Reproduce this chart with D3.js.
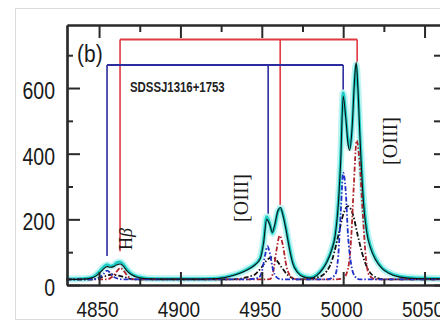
<!DOCTYPE html>
<html>
<head>
<meta charset="utf-8">
<script src="https://cdn.jsdelivr.net/npm/d3@7"></script>
<style>
  html, body { margin: 0; padding: 0; background: #fff; }
  svg { display: block; }
</style>
</head>
<body>
<div id="chart"></div>
<script>
// observed spectrum (cyan)
var obsWave = [4830, 4840, 4845, 4848, 4851, 4853, 4855, 4857, 4859, 4861, 4863, 4865, 4867, 4870, 4874, 4880,
  4890, 4900, 4910, 4920, 4925, 4930, 4936, 4941, 4945, 4949, 4951, 4953, 4955, 4956.5, 4958, 4960, 4961.5,
  4963, 4965, 4967, 4969, 4972, 4976, 4980, 4984, 4987, 4990, 4993, 4995, 4997, 4998.5, 5000, 5001.5, 5003,
  5004, 5005.5, 5007, 5008, 5009, 5010.5, 5012.5, 5014.5, 5017, 5020, 5024, 5028, 5035, 5045, 5064];
var obsFlux = [18, 19, 22, 30, 45, 56, 62, 57, 60, 68, 70, 62, 48, 34, 25, 20,
  19, 19, 19, 20, 22, 27, 36, 48, 60, 82, 130, 208, 185, 158, 180, 225, 234,
  215, 170, 115, 70, 40, 26, 23, 32, 48, 72, 110, 150, 250, 390, 585, 520, 440,
  418, 480, 620, 670, 600, 440, 260, 168, 115, 80, 52, 38, 26, 21, 20];
// best fit (black)
var fitFlux = [17, 18, 21, 27, 40, 50, 56, 54, 56, 62, 64, 57, 44, 31, 23, 19,
  18, 18, 18, 19, 21, 26, 35, 46, 58, 80, 125, 200, 182, 160, 185, 228, 236,
  212, 165, 110, 66, 38, 24, 21, 30, 46, 70, 108, 148, 245, 380, 575, 515, 430,
  410, 480, 625, 678, 605, 430, 250, 160, 110, 76, 50, 36, 24, 20, 19];

// blue-shifted narrow component
var blueWave = [4830, 4845, 4850, 4853, 4855, 4857, 4860, 4865, 4940, 4948, 4950, 4952, 4953.5, 4955, 4957, 4959, 4962,
  4990, 4995, 4997, 4998.5, 5000, 5001.5, 5003, 5005, 5007, 5010, 5064];
var blueFlux = [17, 17, 22, 35, 44, 36, 22, 17, 17, 22, 40, 90, 118, 95, 45, 24, 17,
  17, 30, 90, 220, 342, 290, 150, 60, 28, 17, 17];

// red-shifted narrow component
var redWave = [4830, 4855, 4858, 4861, 4863, 4865, 4868, 4872, 4950, 4955, 4957, 4959, 4961, 4963, 4965, 4968, 4972,
  4995, 5000, 5003, 5005, 5006.5, 5008.3, 5010, 5012, 5014, 5016, 5020, 5064];
var redFlux = [17, 17, 25, 42, 52, 44, 25, 17, 17, 18, 40, 105, 150, 120, 60, 25, 17,
  17, 20, 50, 150, 300, 440, 380, 220, 80, 30, 17, 17];

// broad component
var broadWave = [4830, 4845, 4852, 4858, 4864, 4872, 4930, 4945, 4950, 4953, 4956, 4959, 4962, 4966, 4972,
  4985, 4992, 4997, 5000, 5003, 5006, 5009, 5013, 5018, 5025, 5064];
var broadFlux = [17, 17, 24, 32, 26, 17, 17, 30, 55, 75, 84, 76, 55, 30, 17,
  24, 60, 150, 215, 240, 215, 150, 75, 30, 17, 17];

// line positions of the two systems
var redLines = [4862.9, 4961.3, 5008.6];
var redLineEnds = [103, 233, 676];
var redTop = 748;
var blueLines = [4854.9, 4953.9, 5000.0];
var blueLineEnds = [88, 215, 591];
var blueTop = 670;

var xTicks = [4850, 4900, 4950, 5000, 5050];
var xMinor = [4875, 4925, 4975, 5025];
var yTicks = [0, 200, 400, 600];
var yMinor = [100, 300, 500, 700];

var W = 440, H = 322;
var svg = d3.select('#chart').append('svg')
  .attr('width', W)
  .attr('height', H);

// faint photo border
svg.append('rect')
  .attr('x', 15.5).attr('y', 8.5)
  .attr('width', 440).attr('height', 311)
  .attr('fill', 'none')
  .attr('stroke', '#dcdcdc');

var x = d3.scaleLinear().domain([4830.3, 5063.8]).range([67, 447]);
var y = d3.scaleLinear().domain([0, 792]).range([285, 25]);

var plot = svg.append('g');

function series(wave, flux) {
  return wave.map(function(w, i) { return [w, flux[i]]; });
}
var line = d3.line()
  .x(function(d) { return x(d[0]); })
  .y(function(d) { return y(d[1]); })
  .curve(d3.curveMonotoneX);

// brackets
function bracket(lines, ends, top, color) {
  plot.append('line')
    .attr('x1', x(lines[0])).attr('x2', x(lines[2]))
    .attr('y1', y(top)).attr('y2', y(top))
    .attr('stroke', color).attr('stroke-width', 2);
  lines.forEach(function(w, i) {
    plot.append('line')
      .attr('x1', x(w)).attr('x2', x(w))
      .attr('y1', y(top)).attr('y2', y(ends[i]))
      .attr('stroke', color).attr('stroke-width', 1.6);
  });
}
bracket(redLines, redLineEnds, redTop, '#e03a42');
bracket(blueLines, blueLineEnds, blueTop, '#2c2ca0');

// observed
plot.append('path')
  .datum(series(obsWave, obsFlux))
  .attr('d', line)
  .attr('fill', 'none')
  .attr('stroke', '#bdf5f3')
  .attr('stroke-width', 7);
plot.append('path')
  .datum(series(obsWave, obsFlux))
  .attr('d', line)
  .attr('fill', 'none')
  .attr('stroke', '#1cccc4')
  .attr('stroke-width', 3);

// components
var comps = [
  { wave: broadWave, flux: broadFlux, color: '#111' },
  { wave: redWave, flux: redFlux, color: '#b0242c' },
  { wave: blueWave, flux: blueFlux, color: '#2030c8' }
];
comps.forEach(function(c) {
  plot.append('path')
    .datum(series(c.wave, c.flux))
    .attr('d', line)
    .attr('fill', 'none')
    .attr('stroke', c.color)
    .attr('stroke-width', 1.8)
    .attr('stroke-dasharray', '5,2,1.5,2');
});

// best fit
plot.append('path')
  .datum(series(obsWave, fitFlux))
  .attr('d', line)
  .attr('fill', 'none')
  .attr('stroke', '#111')
  .attr('stroke-width', 1.1);

// axes
var axisColor = '#2a2a2a';
function drawAxis(axis, transform) {
  var g = svg.append('g').attr('transform', transform).call(axis);
  g.selectAll('path').attr('stroke', axisColor).attr('stroke-width', 2.2);
  g.selectAll('line').attr('stroke', axisColor).attr('stroke-width', 2);
  g.selectAll('text').remove();
  return g;
}
drawAxis(d3.axisBottom(x).tickValues(xTicks).tickSize(-13).tickSizeOuter(0), 'translate(0,285)');
drawAxis(d3.axisBottom(x).tickValues(xMinor).tickSize(-6).tickSizeOuter(0), 'translate(0,285)');
drawAxis(d3.axisTop(x).tickValues(xTicks).tickSize(-13).tickSizeOuter(0), 'translate(0,25)');
drawAxis(d3.axisTop(x).tickValues(xMinor).tickSize(-7).tickSizeOuter(0), 'translate(0,25)');
drawAxis(d3.axisLeft(y).tickValues(yTicks).tickSize(-13).tickSizeOuter(0), 'translate(67,0)');
drawAxis(d3.axisLeft(y).tickValues(yMinor).tickSize(-6).tickSizeOuter(0), 'translate(67,0)');
drawAxis(d3.axisRight(y).tickValues(yTicks.concat(yMinor)).tickSize(-13).tickSizeOuter(0), 'translate(447,0)');

// tick labels
var font = "'Liberation Sans', Arial, sans-serif";
yTicks.forEach(function(v) {
  svg.append('g')
    .attr('transform', 'translate(55,' + (y(v) + 11) + ') scale(1,1.2)')
    .append('text')
    .attr('text-anchor', 'end')
    .style('font-family', font)
    .style('font-size', '19.5px')
    .attr('fill', '#1a1a1a')
    .text(v);
});
xTicks.forEach(function(v) {
  svg.append('g')
    .attr('transform', 'translate(' + (x(v) - 1.5) + ',317) scale(1,1.2)')
    .append('text')
    .attr('text-anchor', 'middle')
    .style('font-family', font)
    .style('font-size', '19px')
    .attr('fill', '#1a1a1a')
    .text(v);
});

// panel letter
svg.append('g')
  .attr('transform', 'translate(77,62) scale(1,1.15)')
  .append('text')
  .style('font-family', font)
  .style('font-size', '21px')
  .attr('fill', '#1a1a1a')
  .text('(b)');

// object name
svg.append('g')
  .attr('transform', 'translate(130,92) scale(1,1.25)')
  .append('text')
  .style('font-family', font)
  .style('font-size', '11.4px')
  .style('font-weight', 'bold')
  .attr('fill', '#222')
  .text('SDSSJ1316+1753');

// line labels
var serif = "'Liberation Serif', 'Times New Roman', serif";
function vlabel(cx, cy, size, parts) {
  var t = svg.append('text')
    .attr('transform', 'translate(' + cx + ',' + cy + ') rotate(-90)')
    .attr('text-anchor', 'middle')
    .attr('dy', '0.35em')
    .style('font-family', serif)
    .style('font-size', size + 'px')
    .attr('fill', '#1a1a1a');
  parts.forEach(function(p) {
    t.append('tspan').style('font-style', p.italic ? 'italic' : 'normal').text(p.s);
  });
}
vlabel(241, 198, 20, [{ s: '[OIII]' }]);
vlabel(390, 141, 20, [{ s: '[OIII]' }]);
vlabel(126, 239, 18, [{ s: 'H' }, { s: 'β', italic: true }]);
</script>
</body>
</html>
